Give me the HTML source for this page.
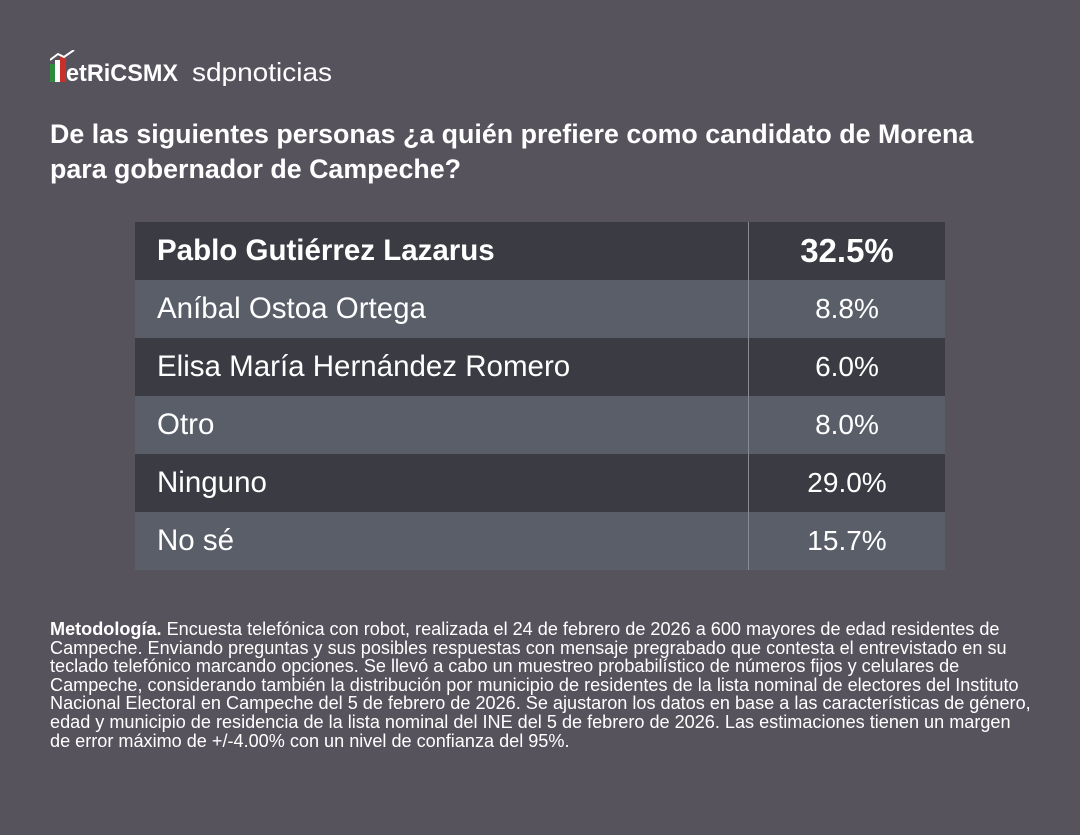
<!DOCTYPE html>
<html><head><meta charset="utf-8"><style>
body{margin:0;width:1080px;height:835px;background:#56535d;font-family:"Liberation Sans",sans-serif;color:#fff;position:relative;overflow:hidden}
.logo{position:absolute;left:50px;top:50px;height:36px}
h1{position:absolute;left:50px;top:117px;margin:0;font-size:26.8px;line-height:35px;font-weight:bold;width:975px}
table{position:absolute;left:135px;top:222px;width:810px;border-collapse:collapse}
td{height:58px;padding:0;font-size:29.5px}
td.n{padding-left:22px}
td.v{text-align:center;width:196px;border-left:1px solid #8a8a95;font-size:28px}
tr.d{background:#3a3b43}
tr.l{background:#5a5e69}
tr.h td{font-weight:bold}
tr.h td.v{font-size:33px}
.m{position:absolute;left:50px;top:620px;width:990px;font-size:18.1px;line-height:18.6px}
</style></head><body>
<div class="logo">
<svg width="320" height="36" viewBox="0 0 320 36">
<rect x="0" y="14" width="5" height="18" fill="#2e8b3e"/>
<rect x="5" y="10" width="5" height="22" fill="#fff"/>
<rect x="10" y="6" width="6" height="26" fill="#c9302c"/>
<polyline points="0,10 8,4 14,7 24,0" stroke="#fff" stroke-width="2" fill="none"/>
<text x="16" y="31" font-family="Liberation Sans" font-weight="bold" font-size="24" fill="#fff" textLength="112" lengthAdjust="spacingAndGlyphs">etRiCSMX</text>
<text x="142" y="31" font-family="Liberation Sans" font-size="26" fill="#fff" textLength="140" lengthAdjust="spacingAndGlyphs">sdpnoticias</text>
</svg></div>
<h1>De las siguientes personas ¿a quién prefiere como candidato de Morena para gobernador de Campeche?</h1>
<table>
<tr class="d h"><td class="n">Pablo Gutiérrez Lazarus</td><td class="v">32.5%</td></tr>
<tr class="l"><td class="n">Aníbal Ostoa Ortega</td><td class="v">8.8%</td></tr>
<tr class="d"><td class="n">Elisa María Hernández Romero</td><td class="v">6.0%</td></tr>
<tr class="l"><td class="n">Otro</td><td class="v">8.0%</td></tr>
<tr class="d"><td class="n">Ninguno</td><td class="v">29.0%</td></tr>
<tr class="l"><td class="n">No sé</td><td class="v">15.7%</td></tr>
</table>
<div class="m"><b>Metodología.</b> Encuesta telefónica con robot, realizada el 24 de febrero de 2026 a 600 mayores de edad residentes de Campeche. Enviando preguntas y sus posibles respuestas con mensaje pregrabado que contesta el entrevistado en su teclado telefónico marcando opciones. Se llevó a cabo un muestreo probabilístico de números fijos y celulares de Campeche, considerando también la distribución por municipio de residentes de la lista nominal de electores del Instituto Nacional Electoral en Campeche del 5 de febrero de 2026. Se ajustaron los datos en base a las características de género, edad y municipio de residencia de la lista nominal del INE del 5 de febrero de 2026. Las estimaciones tienen un margen<br>de error máximo de +/-4.00% con un nivel de confianza del 95%.</div>
</body></html>
